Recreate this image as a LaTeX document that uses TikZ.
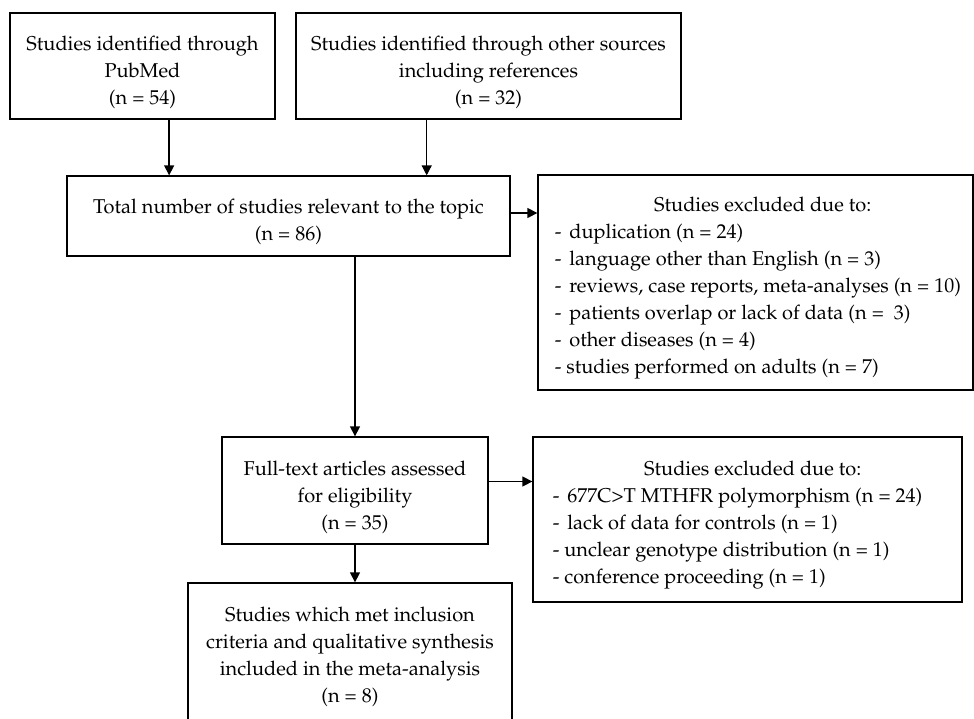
\documentclass[tikz,border=0pt]{standalone}
\usepackage[T1]{fontenc}
\usepackage{mathpazo}
\usetikzlibrary{arrows.meta,calc}
\begin{document}
\begin{tikzpicture}[x=0.5pt,y=-0.5pt,
  box/.style={draw, line width=0.65pt, inner sep=0pt},
  txt/.style={inner sep=0pt, anchor=north, align=center, font=\fontsize{10}{13.5}\selectfont},
  ltxt/.style={inner sep=0pt, anchor=north west, align=left, font=\fontsize{10}{13.5}\selectfont},
  arr/.style={line width=0.65pt, -{Triangle[length=5pt,width=5pt]}}]
\useasboundingbox (0,0) rectangle (974,718);
\clip (0,0) rectangle (974,718);
\fill[white] (0,0) rectangle (974,718);

% boxes
\node[box, minimum width=132.5pt, minimum height=53pt] (pub) at (142.5,66) {};
\node[box, minimum width=192.5pt, minimum height=53pt] (oth) at (488.5,66) {};
\node[box, minimum width=221.5pt, minimum height=40pt] (tot) at (288.5,216) {};
\node[box, minimum width=217.5pt, minimum height=107.5pt] (ex1) at (755.5,282.5) {};
\node[box, minimum width=133pt, minimum height=53.5pt] (ful) at (355,490.5) {};
\node[box, minimum width=214.5pt, minimum height=82.5pt] (ex2) at (747.5,519.5) {};
\node[box, minimum width=162pt, minimum height=71pt] (inc) at (350,654) {};

% texts
\node[txt] (pubt) at ($(pub.north)+(0,23)$)
  {Studies identified through\\PubMed\\(n = 54)};
\node[txt] (otht) at ($(oth.north)+(0,23)$)
  {Studies identified through other sources\\including references\\(n = 32)};
\node[txt] (tott) at ($(tot.north)+(0,23)$)
  {Total number of studies relevant to the topic\\(n = 86)};
\node[ltxt] (ex1t) at ($(ex1.north west)+(17,22)$)
  {\makebox[208pt][c]{Studies excluded due to:}\\
   -\hspace{4pt}duplication (n = 24)\\
   -\hspace{4pt}language other than English (n = 3)\\
   -\hspace{4pt}reviews, case reports, meta-analyses (n = 10)\\
   -\hspace{4pt}patients overlap or lack of data (n =\ \ 3)\\
   -\hspace{4pt}other diseases (n = 4)\\
   - studies performed on adults (n = 7)};
\node[txt] (fult) at ($(ful.north)+(0,24)$)
  {Full-text articles assessed\\for eligibility\\(n = 35)};
\node[ltxt] (ex2t) at ($(ex2.north west)+(20,24)$)
  {\makebox[200pt][c]{Studies excluded due to:}\\
   -\hspace{4pt}677C>T MTHFR polymorphism (n = 24)\\
   -\hspace{4pt}lack of data for controls (n = 1)\\
   - unclear genotype distribution (n = 1)\\
   - conference proceeding (n = 1)};
\node[txt] (inct) at ($(inc.north)+(0,24)$)
  {Studies which met inclusion\\criteria and qualitative synthesis\\included in the meta-analysis\\(n = 8)};

% connectors
\coordinate (p1) at ($(pub.south west)!0.6!(pub.south east)$);
\coordinate (p2) at ($(oth.south west)!0.34!(oth.south east)$);
\draw[arr] (p1) -- (p1 |- tot.north);
\draw[arr] (p2) -- (p2 |- tot.north);
\draw[arr] ($(tot.east)+(0,-3)$) -- ($(tot.east -| ex1.west)+(0,-3)$);
\draw[arr] (ful.north |- tot.south) -- (ful.north);
\draw[arr] ($(ful.east)+(0,-9)$) -- ($(ful.east -| ex2.west)+(0,-9)$);
\draw[arr] (ful.south) -- (ful.south |- inc.north);
\end{tikzpicture}
\end{document}
